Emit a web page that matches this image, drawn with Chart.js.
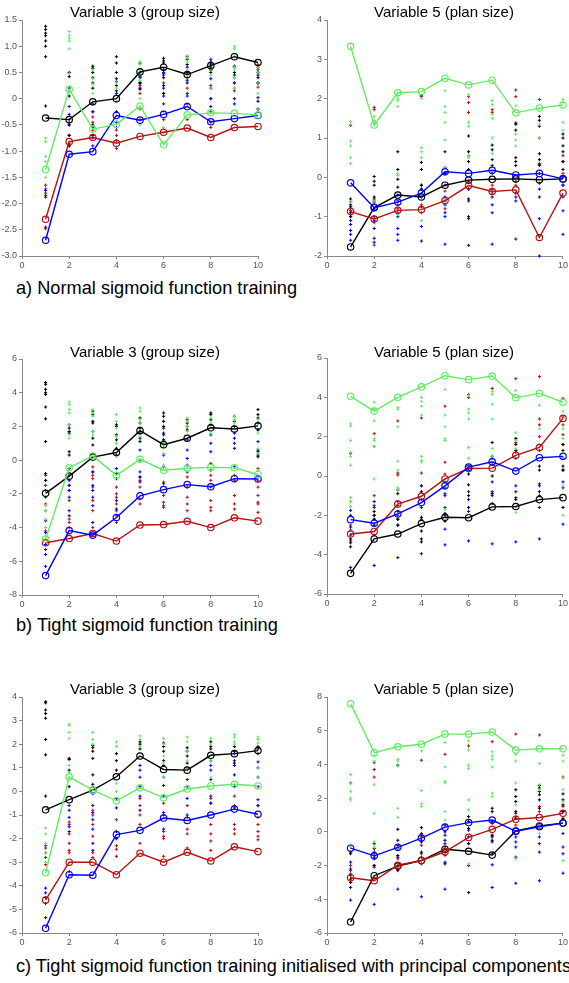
<!DOCTYPE html>
<html>
<head>
<meta charset="utf-8">
<script src="https://cdn.jsdelivr.net/npm/chart.js@4.4.0/dist/chart.umd.min.js"></script>
<style>
  body { margin: 0; background: #fff; width: 569px; height: 983px; overflow: hidden; position: relative; font-family: "Liberation Sans", Arial, sans-serif; }
  canvas { position: absolute; }
  .title { position: absolute; width: 300px; text-align: center; font-size: 15px; color: #000; line-height: 18px; z-index: 2; }
  .caption { position: absolute; left: 16px; font-size: 18.2px; color: #000; white-space: nowrap; line-height: 20px; }
</style>
</head>
<body>
<div class="title" style="left:-5px; top:3px;">Variable 3 (group size)</div>
<div class="title" style="left:294px; top:3px;">Variable 5 (plan size)</div>
<div class="title" style="left:-5px; top:343px;">Variable 3 (group size)</div>
<div class="title" style="left:294px; top:343px;">Variable 5 (plan size)</div>
<div class="title" style="left:-5px; top:680px;">Variable 3 (group size)</div>
<div class="title" style="left:294px; top:680px;">Variable 5 (plan size)</div>
<div class="caption" style="top:278px;">a) Normal sigmoid function training</div>
<div class="caption" style="top:615px;">b) Tight sigmoid function training</div>
<div class="caption" style="top:956px;">c) Tight sigmoid function training initialised with principal components</div>

<canvas id="pa3" width="270" height="260" style="left:0px; top:12px;"></canvas>
<canvas id="pa5" width="264" height="260" style="left:305px; top:12px;"></canvas>
<canvas id="pb3" width="270" height="260" style="left:0px; top:351px;"></canvas>
<canvas id="pb5" width="264" height="260" style="left:305px; top:350px;"></canvas>
<canvas id="pc3" width="270" height="260" style="left:0px; top:689px;"></canvas>
<canvas id="pc5" width="264" height="260" style="left:305px; top:689px;"></canvas>

<script>
// x positions (training runs) and axis ticks
var xValues = [1, 2, 3, 4, 5, 6, 7, 8, 9, 10];
var xTicks = [0, 2, 4, 6, 8, 10];

var green = "#62ec62";
var black = "#000000";
var blue = "#0000ff";
var red = "#b81010";

// ---- a) normal sigmoid, variable 3
var aVar3Ticks = [-3, -2.5, -2, -1.5, -1, -0.5, 0, 0.5, 1, 1.5];
var aVar3Green = [-1.35, 0.18, -0.58, -0.49, -0.14, -0.88, -0.31, -0.27, -0.28, -0.31];
var aVar3Black = [-0.37, -0.40, -0.06, 0.0, 0.51, 0.60, 0.46, 0.63, 0.80, 0.69];
var aVar3Blue = [-2.70, -1.06, -1.01, -0.32, -0.41, -0.30, -0.15, -0.44, -0.38, -0.32];
var aVar3Red = [-2.30, -0.82, -0.74, -0.85, -0.72, -0.64, -0.56, -0.74, -0.55, -0.53];
var aVar3GreenPts = [[-0.75,-0.82,-1.1,-1.2,-1.5],[1.28,1.2,1.15,1.1,0.95,0.48],[0.55,0.38,0.28,0.1],[0.3,0.2,-0.05],[0.7,0.65,0.55,0.45,0.35,0.0,-0.5],[-0.25,-0.55,-0.65],[0.82,0.78,0.7,0.55,0.45],[0.55,0.45,0.2],[1.0,0.95,0.85,0.6,0.55,0.4,0.2],[0.6,0.5,0.3,0.1,-0.2]];
var aVar3BlackPts = [[1.38,1.32,1.25,1.2,1.1,1.0,0.8,-0.14],[0.5,0.42,0.05,-0.5,-0.7,-0.9],[0.62,0.58,0.5,0.4,0.3,0.2,-0.5,-0.7],[0.8,0.68,0.5,0.38,0.25,0.15,-0.25],[0.68,0.42,0.3,0.2],[0.77,0.72,0.68,0.55,0.4,0.25,0.1],[0.8,0.65,0.5,0.3],[0.66,0.6,0.55,0.5],[0.62,0.5],[0.6,0.5,0.4,0.3,-0.05]];
var aVar3BluePts = [[-1.75,-1.85,-2.45],[0.2,-0.15,-0.3,-0.5,-0.7,-0.9],[-0.1,-0.25,-0.55,-0.75,-0.9],[0.32,0.1,-0.45,-0.55],[0.5,0.4,0.3,0.18],[0.5,0.45,0.2,0.05,-0.1],[0.75,0.6,0.35,0.1,0.05],[0.75,0.7,0.55,0.38,0.2,0.0,-0.15],[0.6,0.45,0.3,0.0,-0.1],[0.5,0.45,0.3,0.02,-0.2]];
var aVar3RedPts = [[-1.65,-1.72,-1.8,-1.88,-2.48],[-0.4,-0.45,-0.85],[-0.25,-0.35,-0.45,-0.6],[-0.6,-0.7,-0.8,-0.95],[0.3,0.25,0.1,-0.2,-0.4],[0.48,0.3,0.1,-0.4],[0.5,0.4,0.2,-0.1,-0.4],[0.25,0.0,-0.25,-0.45,-0.55],[0.4,0.3,0.2,0.15],[0.65,0.55,0.3,0.22,-0.2]];

// ---- a) normal sigmoid, variable 5
var aVar5Ticks = [-2, -1, 0, 1, 2, 3, 4];
var aVar5Green = [3.33, 1.33, 2.15, 2.18, 2.52, 2.35, 2.47, 1.64, 1.76, 1.84];
var aVar5Black = [-1.77, -0.77, -0.45, -0.50, -0.20, -0.07, -0.05, -0.04, -0.06, -0.04];
var aVar5Blue = [-0.14, -0.77, -0.63, -0.40, 0.14, 0.10, 0.18, 0.06, 0.10, -0.04];
var aVar5Red = [-0.87, -1.06, -0.84, -0.82, -0.59, -0.21, -0.36, -0.32, -1.53, -0.40];
var aVar5GreenPts = [[1.42,1.35,0.92,0.8,0.5,0.35,-0.62],[1.55,1.45,1.35,-0.6],[2.08,2.0,1.95,1.8,0.1,0.05,-0.95],[2.0,0.75,0.65,0.5,-1.1],[2.2,1.8,1.65,1.4,0.95,0.25],[2.1,1.4,1.3,0.55,0.5],[1.95,1.85,1.6,1.5,1.0,0.6],[1.82,1.1,0.95,0.8],[1.75,1.35,1.0],[1.98,1.9,1.4,1.2]];
var aVar5BlackPts = [[-0.55,-0.62,-0.7,-0.9,-1.0],[0.02,-0.1,-0.2,-0.5,-0.6],[0.65,0.2,-0.05,-0.25],[0.38,0.2,-0.2,-0.3],[0.65,0.25,0.1],[1.05,0.65,0.55,0.4,0.2,-0.55,-1.0],[0.82,0.7,0.45,0.3,0.1],[1.38,1.35,1.2,0.5,0.4,0.3],[1.55,1.45,1.3,0.6,0.45,0.32,0.1],[1.1,1.0,0.8,0.65,0.4,0.2]];
var aVar5BluePts = [[-0.75,-0.85,-1.1,-1.2,-1.35,-1.45,-1.6],[-0.55,-0.8,-1.0,-1.1,-1.3,-1.55,-1.65],[-0.45,-0.6,-1.0,-1.3,-1.45,-1.6],[-0.2,-0.3,-0.5,-0.75,-1.25,-1.62],[0.1,-0.2,-0.5,-0.7,-0.9,-1.0,-1.7],[-0.3,-0.6,-1.05,-1.73],[-0.3,-0.5,-0.7,-0.9,-1.7],[-0.4,-0.5,-0.6,-1.57],[-0.15,-0.3,-0.5,-1.05,-2.0],[0.0,-0.2,-0.5,-0.85,-1.45]];
var aVar5RedPts = [[1.32,-0.75,-0.95,-1.0],[1.78,1.72,-0.65,-1.15,-1.72],[-0.7,-0.8,-0.9],[2.08,2.05,-0.7,-0.9],[-0.35,-0.6,-0.8],[2.05,1.9,1.65,-0.1,-0.3],[1.72,1.65,-0.2,-0.4],[2.22,2.05,-0.1,-0.2],[1.98,1.0,0.35,0.3],[0.55,0.4,0.1,-0.2]];

// ---- b) tight sigmoid, variable 3
var bVar3Ticks = [-8, -6, -4, -2, 0, 2, 4, 6];
var bVar3Green = [-4.68, -0.45, 0.25, -0.90, 0.05, -0.60, -0.48, -0.43, -0.45, -0.85];
var bVar3Black = [-1.97, -0.95, 0.18, 0.45, 1.75, 0.92, 1.30, 1.92, 1.85, 2.03];
var bVar3Blue = [-6.85, -4.18, -4.45, -3.40, -2.12, -1.75, -1.45, -1.58, -1.10, -1.12];
var bVar3Red = [-4.90, -4.65, -4.35, -4.80, -3.85, -3.82, -3.63, -4.00, -3.42, -3.62];
var bVar3GreenPts = [[-2.7,-3.0,-3.5,-4.0],[3.45,3.3,3.0,2.8,2.1,1.5,1.3],[3.0,2.8,2.6,1.7,1.5],[2.7,2.3,1.9,1.4,1.0,0.2],[3.1,2.9,2.4,2.2,1.4],[1.0,0.8,0.4,-0.3],[2.5,2.3,2.0,1.7],[2.5,2.2,1.6],[2.6,2.4,2.2],[2.4,1.6,0.7,0.4,-0.6]];
var bVar3BlackPts = [[4.6,4.5,4.2,4.0,3.9,3.15,2.45,1.1,-0.8,-1.2],[2.1,1.9,1.7,1.6,0.5,0.3,-0.5],[2.9,2.7,2.3,2.2,1.7,1.3,0.9],[2.1,2.0,1.5,1.2,0.7,0.3],[2.5,2.2,1.9,1.6,1.3,1.1],[2.8,2.6,2.3,2.0,1.6,1.2],[2.4,2.2,2.0,1.8],[2.8,2.7,2.4,2.1],[2.6,2.3,2.0],[3.0,2.7,2.5,2.2,1.8,0.5,0.2]];
var bVar3BluePts = [[-3.6,-4.3,-5.0,-5.3,-5.6,-6.3],[-0.9,-1.2,-1.5,-1.8,-2.2,-3.0,-3.3],[-0.7,-1.5,-1.8,-2.2,-2.7,-3.7],[-0.5,-0.8,-1.1,-2.4,-2.9],[0.6,0.0,-0.7,-1.0,-1.3],[1.9,1.5,1.2,0.3,-0.4,-1.4],[1.2,0.6,0.1,-0.3,-0.7],[1.5,1.0,0.5,-0.2,-0.6],[1.6,1.3,1.0,0.7,-0.4],[1.8,1.1,0.6,0.3]];
var bVar3RedPts = [[-0.9,-1.2,-1.5,-1.8,-2.2,-2.6,-3.0,-4.2],[-1.5,-1.8,-2.4,-3.5,-3.7,-4.0],[-0.4,-0.7,-0.9,-1.1,-1.6,-2.4,-3.0,-4.0],[-1.6,-2.0,-2.2,-2.6,-3.0,-3.3,-3.7],[-1.0,-1.2,-1.6,-2.3,-2.6],[-1.3,-2.1,-2.5,-2.7,-2.8],[-1.0,-1.6,-2.2,-2.6,-3.0],[-0.9,-1.2,-1.6,-2.4,-2.8,-3.0],[-0.9,-1.2,-2.1,-2.6,-2.9],[-0.5,-1.2,-1.6,-2.1,-2.5,-2.6,-3.1]];

// ---- b) tight sigmoid, variable 5
var bVar5Ticks = [-6, -4, -2, 0, 2, 4, 6];
var bVar5Green = [4.05, 3.30, 4.00, 4.53, 5.10, 4.90, 5.08, 3.98, 4.20, 3.75];
var bVar5Black = [-4.95, -3.20, -2.95, -2.42, -2.10, -2.12, -1.57, -1.55, -1.20, -1.10];
var bVar5Blue = [-2.22, -2.40, -1.93, -1.35, -0.50, 0.45, 0.72, 0.25, 0.93, 1.00];
var bVar5Red = [-2.95, -2.82, -1.43, -1.03, -0.15, 0.38, 0.40, 1.05, 1.45, 2.93];
var bVar5GreenPts = [[2.65,2.55,1.8,1.2,1.0,0.55,-1.1,-1.3,-1.55],[3.75,3.4,2.8,1.9,1.8,1.5,-0.15],[3.5,3.4,2.5,0.75,0.3,-0.6,-0.7],[4.0,3.8,3.55,3.1,1.0,0.8,0.7],[4.4,3.1,2.5,1.9,1.8,-0.2,-1.7],[4.1,3.4,3.2,2.9,1.45,0.9,0.5],[4.3,4.15,3.65,2.9,1.4,1.0],[4.35,2.2,1.8,1.4,-1.6,-1.85],[3.6,2.4,1.6],[3.3,2.4,1.9,0.9,-0.5,-2.0]];
var bVar5BlackPts = [[-3.2,-3.4,-3.6],[-1.8,-2.0,-2.2,-2.5],[-0.7,-0.9,-2.2,-2.5],[-2.1,-2.8,-3.2,-3.35],[-1.9,-2.3],[0.4,0.1,-0.45,-1.0,-1.6],[1.7,1.0,0.0,-0.9,-1.4],[1.9,1.6,1.3,-1.2],[0.5,0.3,-0.8],[1.6,1.3,0.9,0.5,0.3,-1.6]];
var bVar5BluePts = [[-1.75,-2.0,-2.6,-3.0,-3.3,-4.65],[-1.3,-1.6,-2.2,-3.0,-4.55],[-1.3,-1.8,-2.2,-2.5,-4.15],[-0.5,-0.8,-1.6,-2.2,-3.95],[-0.9,-1.0,-1.6,-2.0,-2.7,-3.5],[-0.8,-1.2,-1.8,-3.3],[-0.3,-0.8,-1.0,-3.45],[-0.5,-0.8,-1.1,-3.35],[-0.4,-0.5,-1.0,-1.6,-3.2],[0.3,-0.3,-0.6,-2.45]];
var bVar5RedPts = [[1.15,-1.3,-2.5,-2.75],[2.15,1.5,-1.0,-1.5,-2.0],[2.8,0.15,0.05,-1.5,-2.0],[2.95,0.15,-0.5,-0.8,-1.2],[3.55,0.7,0.1,-0.3,-0.6],[4.15,4.0],[4.45,0.9,0.6],[4.95,1.9,1.7,1.2,0.9],[5.05,2.9,2.6,2.0,1.6,1.3],[3.95,3.0,2.6,2.1,1.6]];

// ---- c) tight sigmoid with principal components, variable 3
var cVar3Ticks = [-6, -5, -4, -3, -2, -1, 0, 1, 2, 3, 4];
var cVar3Green = [-3.45, 0.62, 0.05, -0.40, 0.15, -0.27, 0.10, 0.23, 0.30, 0.23];
var cVar3Black = [-0.78, -0.35, 0.05, 0.62, 1.50, 0.93, 0.90, 1.53, 1.60, 1.73];
var cVar3Blue = [-5.80, -3.53, -3.55, -1.83, -1.65, -1.13, -1.23, -1.00, -0.75, -0.97];
var cVar3Red = [-4.60, -3.00, -3.00, -3.53, -2.62, -3.00, -2.58, -2.95, -2.35, -2.55];
var cVar3GreenPts = [[-1.55,-1.8,-2.2,-2.6,-3.0],[2.85,2.8,2.5,2.25,1.1,0.8],[2.5,2.2,2.0],[2.1,1.9,0.35,0.0],[2.35,2.2,1.9],[2.25,2.0,1.5,1.2,0.6],[2.3,2.1,1.7,1.3,1.0],[2.25,2.0,1.3,0.6],[2.4,2.3,2.1,2.0],[2.3,2.2,2.05,1.0,0.6]];
var cVar3BlackPts = [[3.8,3.75,3.45,3.3,3.1,2.2,1.55,-0.2],[1.4,1.35,0.9,0.2],[1.95,1.85,1.7,1.4,0.7,0.3],[1.6,1.3,0.9],[2.1,2.0,1.8],[2.05,1.9,1.7,1.3,1.1],[1.85,1.7,1.5,1.2,1.0],[2.1,1.9,1.8],[1.9,1.7,1.2],[1.9,1.8,1.6]];
var cVar3BluePts = [[-4.1,-4.3,-4.5,-4.75,-5.35],[-0.6,-0.8,-1.1,-1.5,-1.7,-3.4],[-0.1,-0.6,-0.9,-1.2,-1.6,-2.2,-2.5],[-0.3,-0.7,-1.7,-2.0],[1.1,0.9,0.6,0.2,-0.2,-0.8],[0.6,0.25,-0.2,-0.9,-1.6],[0.5,0.2,-0.3,-1.0],[1.3,1.1,0.9,0.5,-0.2,-0.5],[1.6,1.3,1.1,0.7,0.2,-0.7],[1.25,1.0,0.6,0.2,-0.35,-0.6]];
var cVar3RedPts = [[-2.3,-2.4,-2.6,-2.8,-3.1],[-1.3,-1.4,-1.8,-2.2,-2.5,-2.6],[-0.8,-1.0,-1.4,-1.9,-2.6,-2.8],[-1.2,-1.7,-2.0,-2.3,-2.45,-2.75],[-0.3,-0.6,-1.0,-1.4,-2.2],[-0.5,-1.0,-1.7,-1.9,-2.0,-2.75],[-0.6,-1.1,-1.6,-1.8,-2.4],[-0.3,-0.5,-1.4,-1.8,-2.1,-2.5],[-0.2,-0.6,-1.4,-1.6,-1.8],[-0.6,-1.1,-1.4,-1.7,-1.9,-2.05]];

// ---- c) tight sigmoid with principal components, variable 5
var cVar5Ticks = [-6, -4, -2, 0, 2, 4, 6, 8];
var cVar5Green = [7.60, 4.70, 5.05, 5.20, 5.80, 5.80, 5.92, 4.85, 4.93, 4.93];
var cVar5Black = [-5.35, -2.60, -2.03, -1.70, -1.03, -1.15, -1.38, 0.05, 0.35, 0.52];
var cVar5Blue = [-0.97, -1.42, -0.92, -0.37, 0.28, 0.55, 0.70, 0.03, 0.30, 0.52];
var cVar5Red = [-2.72, -2.90, -1.98, -1.70, -1.18, -0.33, 0.15, 0.75, 0.85, 1.10];
var cVar5GreenPts = [[3.4,2.85,2.4,2.0,1.9,-0.8,-0.9],[4.5,4.2,2.8,1.1,-0.6,-0.9],[4.3,4.2,3.9,1.4,0.85,-1.0],[4.8,2.45,1.65,1.5],[5.3,3.85,3.0,2.9,1.2,0.7],[5.4,4.85,3.95,3.75,1.9,1.3,-1.9],[4.75,4.5,4.3,3.85,2.3,2.1],[4.6,4.2,2.9,1.6,-1.6],[4.05,2.8,2.5,-0.1],[4.55,4.2,3.2,2.5,1.8,-1.7]];
var cVar5BlackPts = [[-1.2,-1.3,-2.8,-3.0],[-0.7,-1.0,-1.6,-2.0],[3.95,0.15,-0.5,-0.8,-1.0,-1.4,-2.3],[0.25,-0.2,-0.6,-1.2],[0.4,0.0,-0.5,-1.2,-1.9],[0.9,0.6,0.2,-0.7],[1.4,1.2,0.6,-0.3,-0.5],[2.5,2.1,1.8,1.2,0.8],[2.75,2.6,2.4,2.2,1.9,1.4],[2.25,1.9,1.6,1.2,0.8]];
var cVar5BluePts = [[-1.8,-2.2,-2.5,-3.3,-4.05],[-1.2,-1.5,-2.0,-4.3],[-1.0,-1.5,-3.4],[-0.1,-0.5,-1.5,-3.85],[-0.2,-0.7,-1.8,-3.4],[0.1,-0.3,-0.7,-2.0,-3.6],[-0.2,-0.6,-1.3,-1.95,-3.3],[-0.3,-0.6,-0.9,-1.5,-3.05],[-0.3,-0.7,-1.2,-2.9],[-0.1,-0.9,-1.3,-2.45]];
var cVar5RedPts = [[2.9,-2.0,-2.3,-2.6,-3.0],[4.1,3.7,3.25,-1.3,-2.1],[-1.6,-2.0,-2.2],[4.25,-0.3,-0.8,-1.3,-1.9],[4.6,-0.9,-1.4],[5.1],[5.35,0.5,-0.2],[5.8,1.1,0.9,0.4],[5.75,1.5,1.2],[3.25,1.5,1.2]];

function lineSet(values, color) {
    return {
        data: values.map(function (v, i) { return { x: xValues[i], y: v }; }),
        borderColor: color,
        borderWidth: 1.4,
        pointRadius: 3.2,
        pointBorderWidth: 1.2,
        pointBorderColor: color,
        pointBackgroundColor: "rgba(0,0,0,0)",
        showLine: true,
        order: 0
    };
}

function dotSet(groups, color) {
    var pts = [];
    groups.forEach(function (g, i) {
        g.forEach(function (v) { pts.push({ x: xValues[i], y: v }); });
    });
    return {
        data: pts,
        showLine: false,
        pointRadius: 1.6,
        pointStyle: "cross",
        pointBorderWidth: 1,
        pointBorderColor: color,
        pointBackgroundColor: color,
        order: 1
    };
}

function makePanel(id, yTicks, lines, dots, rightPad) {
    var datasets = [];
    lines.forEach(function (l) { datasets.push(lineSet(l[0], l[1])); });
    dots.forEach(function (d) { datasets.push(dotSet(d[0], d[1])); });
    new Chart(document.getElementById(id), {
        type: "line",
        data: { datasets: datasets },
        options: {
            responsive: false,
            animation: false,
            clip: false,
            layout: { padding: { top: 8, right: rightPad, left: 0, bottom: 0 } },
            plugins: { legend: { display: false }, tooltip: { enabled: false } },
            scales: {
                x: {
                    type: "linear",
                    min: 0,
                    max: 10,
                    afterBuildTicks: function (scale) { scale.ticks = xTicks.map(function (v) { return { value: v }; }); },
                    afterFit: function (scale) { scale.height = 16; },
                    grid: { drawOnChartArea: false, color: "#888", tickLength: 3 },
                    border: { color: "#888" },
                    ticks: { color: "#555", font: { size: 9, family: "Liberation Sans" }, padding: 1, maxRotation: 0 }
                },
                y: {
                    type: "linear",
                    min: yTicks[0],
                    max: yTicks[yTicks.length - 1],
                    afterBuildTicks: function (scale) { scale.ticks = yTicks.map(function (v) { return { value: v }; }); },
                    afterFit: function (scale) { scale.width = 22; },
                    grid: { drawOnChartArea: false, color: "#888", tickLength: 3 },
                    border: { color: "#888" },
                    ticks: { color: "#555", font: { size: 9, family: "Liberation Sans" }, padding: 2 }
                }
            }
        }
    });
}

makePanel("pa3", aVar3Ticks,
    [[aVar3Green, green], [aVar3Blue, blue], [aVar3Red, red], [aVar3Black, black]],
    [[aVar3GreenPts, green], [aVar3BlackPts, black], [aVar3BluePts, blue], [aVar3RedPts, red]], 12);
makePanel("pa5", aVar5Ticks,
    [[aVar5Green, green], [aVar5Blue, blue], [aVar5Red, red], [aVar5Black, black]],
    [[aVar5GreenPts, green], [aVar5BlackPts, black], [aVar5BluePts, blue], [aVar5RedPts, red]], 6);
makePanel("pb3", bVar3Ticks,
    [[bVar3Green, green], [bVar3Blue, blue], [bVar3Red, red], [bVar3Black, black]],
    [[bVar3GreenPts, green], [bVar3BlackPts, black], [bVar3BluePts, blue], [bVar3RedPts, red]], 12);
makePanel("pb5", bVar5Ticks,
    [[bVar5Green, green], [bVar5Blue, blue], [bVar5Red, red], [bVar5Black, black]],
    [[bVar5GreenPts, green], [bVar5BlackPts, black], [bVar5BluePts, blue], [bVar5RedPts, red]], 6);
makePanel("pc3", cVar3Ticks,
    [[cVar3Green, green], [cVar3Blue, blue], [cVar3Red, red], [cVar3Black, black]],
    [[cVar3GreenPts, green], [cVar3BlackPts, black], [cVar3BluePts, blue], [cVar3RedPts, red]], 12);
makePanel("pc5", cVar5Ticks,
    [[cVar5Green, green], [cVar5Blue, blue], [cVar5Red, red], [cVar5Black, black]],
    [[cVar5GreenPts, green], [cVar5BlackPts, black], [cVar5BluePts, blue], [cVar5RedPts, red]], 6);
</script>
</body>
</html>
